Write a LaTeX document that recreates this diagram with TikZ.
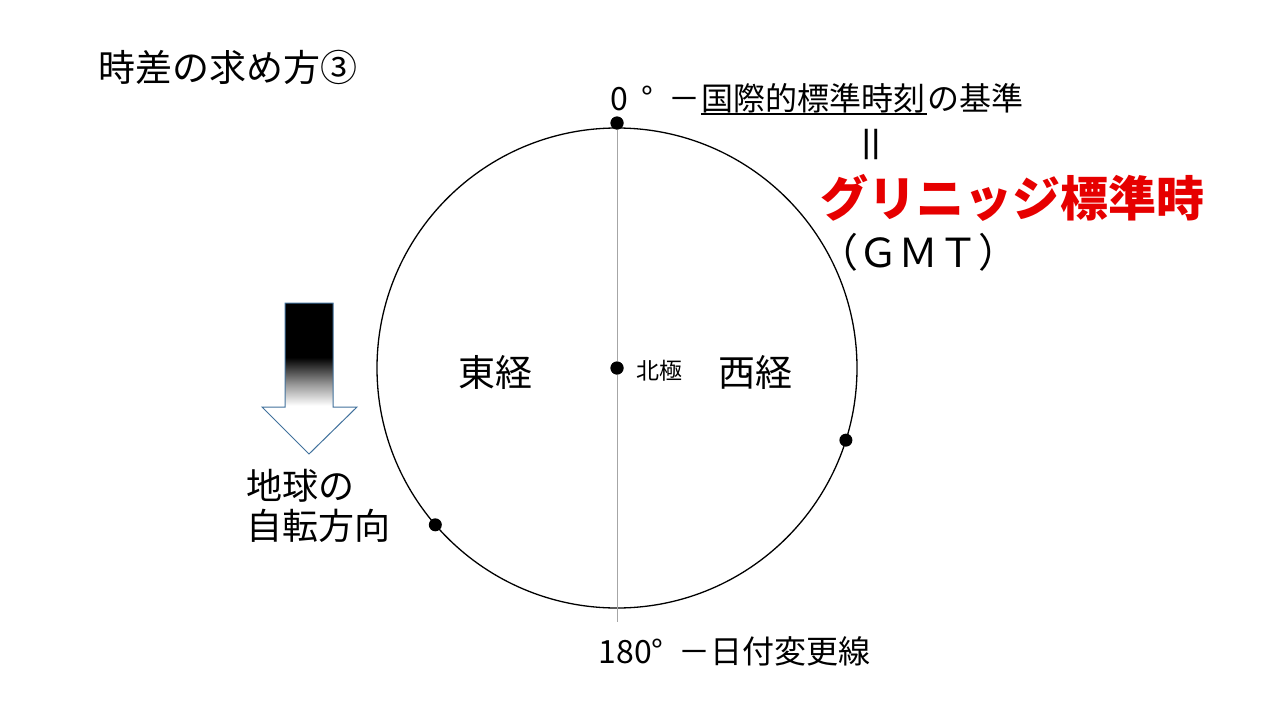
\documentclass[tikz,border=0pt]{standalone}
\usepackage{fontspec}
\setmainfont{Noto Sans CJK JP}
\usetikzlibrary{positioning,calc}
\definecolor{gmtred}{RGB}{230,0,0}
\definecolor{arrowline}{RGB}{65,113,156}
\pgfdeclareverticalshading{rotfade}{100bp}{color(0bp)=(white); color(41bp)=(white); color(48bp)=(black!40); color(57bp)=(black); color(100bp)=(black)}
\newcommand{\jfs}[1]{\fontsize{#1pt}{#1pt}\selectfont}

\begin{document}
\begin{tikzpicture}[x=1pt,y=-1pt,line width=1.3pt]
  \tikzstyle{dot}=[circle,fill=black,inner sep=0pt,minimum size=13pt]
  \tikzstyle{txt}=[inner sep=0pt,anchor=base west]
  \useasboundingbox (0,0) rectangle (1280,720);

  % title
  \node[txt] (title) at (98,81) {\jfs{37}時差の求め方③};

  % globe seen from the north pole
  \node[dot] (pole) at (617,368) {};
  \draw (pole.center) circle[radius=240pt];
  \coordinate (dateline) at (617,622);
  \node[dot] (zero) at (617,123) {};
  \draw[gray!70,line width=1pt] (zero.center) -- (dateline);
  \node[dot] (west) at ($(pole)+(-17.5:240pt)$) {};
  \node[dot] (east) at ($(pole)+(-139.2:240pt)$) {};
  \node[dot] at (zero) {};
  \node[dot] at (pole) {};

  \node[txt] (hokkyoku) at (636,379) {\jfs{23}北極};
  \node[txt] (toukei) at (458,386) {\jfs{37}東経};
  \node[txt] (seikei) at (718,386) {\jfs{37}西経};

  % labels at 0 and 180 degrees
  \node[txt] (deg0) at (610,110) {\jfs{32}0};
  \node[txt] (degsign) at (641,110) {\jfs{32}°};
  \node[txt] (dash) at (668,110) {\jfs{32}－};
  \node[txt,base right=0pt of dash] (kokusai) {\jfs{32}国際的標準時刻};
  \node[txt,base right=0pt of kokusai] (kijun) {\jfs{32}の基準};
  \draw ([yshift=-4pt]kokusai.base west) -- ([yshift=-4pt]kokusai.base east);
  \node[txt,rotate=90,anchor=center] (equal) at (876,144) {\jfs{42}＝};
  \node[txt,text=gmtred] (gmt) at (820,216) {\jfs{48}\bfseries グリニッジ標準時};
  \node[txt] (gmtabbr) at (818,267) {\jfs{40}（ＧＭＴ）};
  \node[txt] (deg180) at (598,663) {\jfs{32}180°};
  \node[txt] (hizuke) at (678,663) {\jfs{32}－日付変更線};

  % direction of rotation
  \shade[shading=rotfade,draw=arrowline,line width=1pt]
    (285,303) -- (333,303) -- (333,407) -- (357,407) -- (309,454)
    -- (262,407) -- (285,407) -- cycle;
  \node[txt] (jiten1) at (246,499) {\jfs{36}地球の};
  \node[txt] (jiten2) at (246,539) {\jfs{36}自転方向};
\end{tikzpicture}
\end{document}
